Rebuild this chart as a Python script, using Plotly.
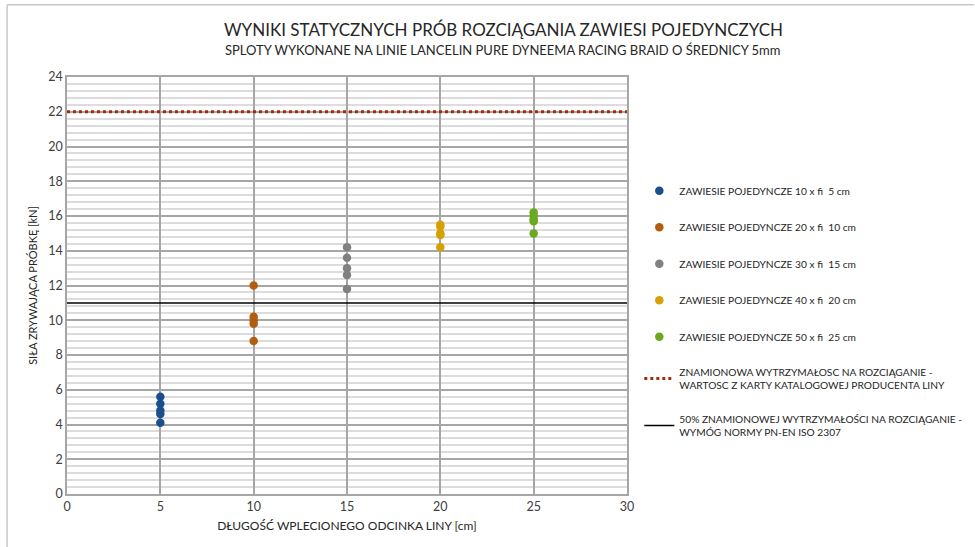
import plotly.graph_objects as go

# ---- data ----
series_names = [
    "ZAWIESIE POJEDYNCZE 10 x fi  5 cm",
    "ZAWIESIE POJEDYNCZE 20 x fi  10 cm",
    "ZAWIESIE POJEDYNCZE 30 x fi  15 cm",
    "ZAWIESIE POJEDYNCZE 40 x fi  20 cm",
    "ZAWIESIE POJEDYNCZE 50 x fi  25 cm",
]
splice_lengths = [5, 10, 15, 20, 25]
values_5cm = [5.6, 5.2, 4.8, 4.6, 4.1]
values_10cm = [12.0, 10.2, 10.0, 9.8, 8.8]
values_15cm = [14.2, 13.6, 13.0, 12.6, 11.8]
values_20cm = [15.5, 15.4, 15.0, 14.9, 14.2]
values_25cm = [16.2, 16.0, 15.8, 15.7, 15.0]
all_values = [values_5cm, values_10cm, values_15cm, values_20cm, values_25cm]
series_colors = ["#1b4f8c", "#b25e0e", "#808080", "#d6a000", "#6aaa20"]

ref_x = [0, 30]
nominal_strength = 22
half_strength = 11
nominal_name = "ZNAMIONOWA WYTRZYMAŁOSC NA ROZCIĄGANIE -<br>WARTOSC Z KARTY KATALOGOWEJ PRODUCENTA LINY"
half_name = "50% ZNAMIONOWEJ WYTRZYMAŁOŚCI NA ROZCIĄGANIE -<br>WYMÓG NORMY PN-EN ISO 2307"

FONT = "Lato, Open Sans, sans-serif"

fig = go.Figure()
for i, (name, x, vals, col) in enumerate(zip(series_names, splice_lengths, all_values, series_colors)):
    fig.add_trace(go.Scatter(
        x=[x] * len(vals), y=vals, mode="markers", name=name,
        legendgroup=f"g{i}",
        marker=dict(color=col, size=8.5, line=dict(width=0)),
    ))

fig.add_trace(go.Scatter(
    x=ref_x, y=[nominal_strength] * len(ref_x), mode="lines", name=nominal_name,
    legendgroup="g5",
    line=dict(color="#a52a0a", width=3, dash="dot"),
))
fig.add_trace(go.Scatter(
    x=ref_x, y=[half_strength] * len(ref_x), mode="lines", name=half_name,
    legendgroup="g6",
    line=dict(color="#000000", width=1.5),
))

fig.update_layout(
    width=975, height=547,
    margin=dict(l=67, r=348, t=77, b=53, autoexpand=False),
    paper_bgcolor="white", plot_bgcolor="white",
    font=dict(family=FONT, color="#404040"),
    showlegend=True,
    legend=dict(
        x=1.022, xanchor="left", y=0.762, yanchor="top",
        font=dict(size=10.2, color="#262626", family=FONT),
        tracegroupgap=17.5, itemwidth=30, bgcolor="rgba(0,0,0,0)",
    ),
    xaxis=dict(
        range=[0, 30], dtick=5, tick0=0,
        showgrid=True, gridcolor="#a6a6a6", gridwidth=1.5,
        showline=True, linecolor="#a6a6a6", linewidth=1.5, mirror=True,
        zeroline=False, ticks="",
        tickfont=dict(size=12.5, color="#404040"),
        title=dict(text="DŁUGOŚĆ WPLECIONEGO ODCINKA LINY [cm]", font=dict(size=12, color="#262626"), standoff=9),
    ),
    yaxis=dict(
        range=[0, 24], dtick=2, tick0=0,
        showgrid=True, gridcolor="#a6a6a6", gridwidth=1.5,
        showline=True, linecolor="#a6a6a6", linewidth=1.5, mirror=True,
        zeroline=False, ticks="",
        tickfont=dict(size=12.5, color="#404040"),
        minor=dict(dtick=0.4, showgrid=True, gridcolor="#dcdcdc", gridwidth=1.5),
        title=dict(text="SIŁA ZRYWAJĄCA PRÓBKĘ [kN]", font=dict(size=11, color="#262626"), standoff=8),
    ),
    annotations=[
        dict(text="WYNIKI STATYCZNYCH PRÓB ROZCIĄGANIA ZAWIESI POJEDYNCZYCH",
             xref="paper", yref="paper", x=0.779, xanchor="center", y=1.113, yanchor="middle",
             showarrow=False, font=dict(size=17, color="#262626", family=FONT)),
        dict(text="SPLOTY WYKONANE NA LINIE LANCELIN PURE DYNEEMA RACING BRAID O ŚREDNICY 5mm",
             xref="paper", yref="paper", x=0.779, xanchor="center", y=1.065, yanchor="middle",
             showarrow=False, font=dict(size=13, color="#262626", family=FONT)),
    ],
    shapes=[
        dict(type="line", xref="paper", yref="paper", x0=-0.107, x1=1.62, y0=1.173, y1=1.173,
             line=dict(color="#c8c8c8", width=1.5)),
        dict(type="line", xref="paper", yref="paper", x0=-0.107, x1=-0.107, y0=1.173, y1=-0.14,
             line=dict(color="#c8c8c8", width=1.5)),
    ],
)

fig.write_html("out.html", config={"displayModeBar": False},
               post_script="document.body.style.margin='0';")
